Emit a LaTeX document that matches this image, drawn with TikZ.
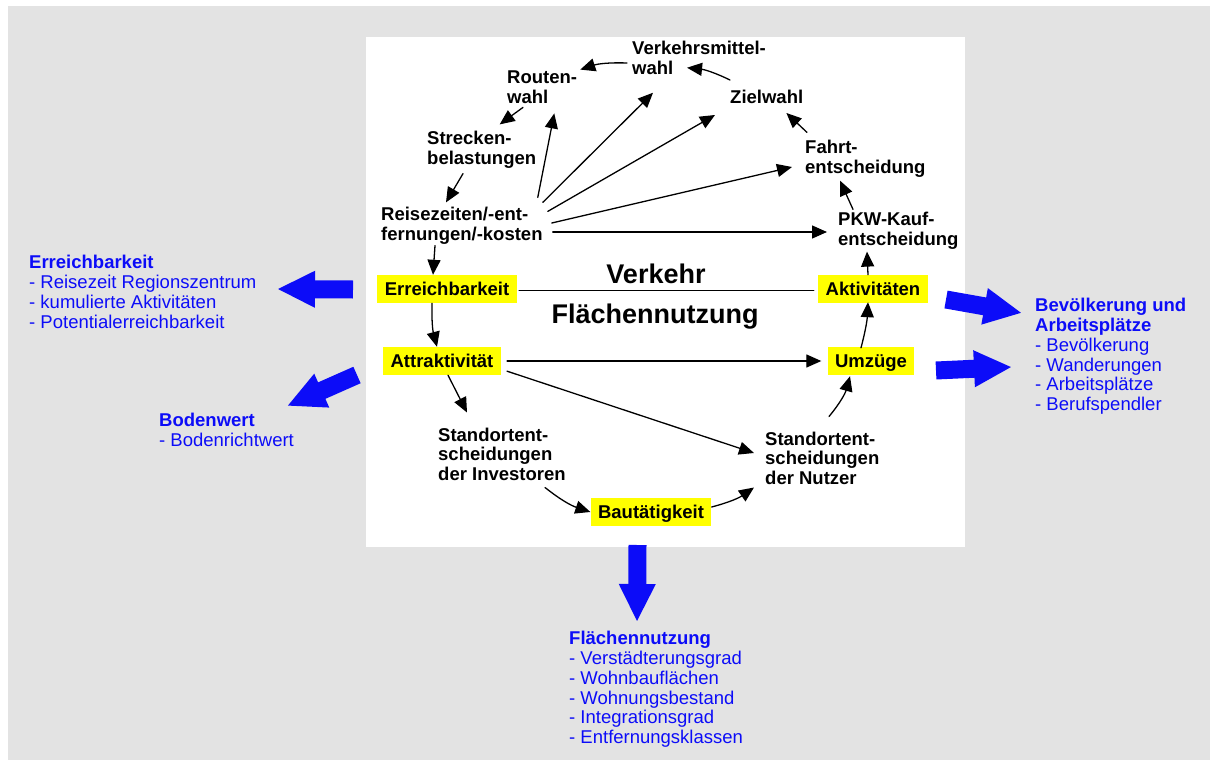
\documentclass[tikz,border=0pt]{standalone}
\usepackage{fontspec}
\setmainfont{Liberation Sans}
\usetikzlibrary{arrows.meta}
\definecolor{bggray}{RGB}{227,227,227}
\definecolor{markyellow}{RGB}{255,255,0}
\definecolor{infoblue}{RGB}{12,12,248}
\newcommand*\labfont{\fontsize{18.5}{19.5}\selectfont\bfseries}
\newcommand*\infofont{\fontsize{18.5}{19.8}\selectfont}
\newcommand*\headfont{\fontsize{27}{30}\selectfont\bfseries}
\tikzset{
  lab/.style={inner sep=0pt,anchor=west,align=left,font=\labfont},
  hlbox/.style={fill=markyellow,font=\labfont,inner xsep=7.5pt,inner ysep=5.5pt,text height=15pt,text depth=2pt},
  flow/.style={line width=1.3pt,-{Triangle[length=15pt,width=13pt]}},
  bigarrow/.style={draw=infoblue,line width=18pt,-{Triangle[length=38pt,width=34pt]}},
  info/.style={inner sep=0pt,anchor=north west,align=left,text=infoblue,font=\infofont},
}

\begin{document}
\begin{tikzpicture}[x=1pt,y=-1pt,line cap=round,line join=round]
\useasboundingbox (0,0) rectangle (1210,760);
\fill[bggray] (8,6) rectangle (1210,760);
\fill[white] (366,37) rectangle (965,547);

% Verkehr
\node[lab] (vmw) at (632,58) {Verkehrsmittel-\\wahl};
\node[lab] (rw) at (507,87) {Routen-\\wahl};
\node[lab] (sb) at (427,150) {Strecken-\\belastungen};
\node[lab] (rz) at (381,226) {Reisezeiten/-ent-\\fernungen/-kosten};
\node[lab] (zw) at (730,97) {Zielwahl};
\node[lab] (fe) at (805,159) {Fahrt-\\entscheidung};
\node[lab] (pkw) at (838,231) {PKW-Kauf-\\entscheidung};

\node[hlbox] (erb) at (447,289) {Erreichbarkeit};
\node[hlbox] (akt) at (873,289) {Aktivitäten};
\node[anchor=base,font=\headfont] (vk) at (656,283) {Verkehr};
\node[anchor=base,font=\headfont] (fn) at (655,323) {Flächennutzung};

% Flaechennutzung
\node[hlbox] (att) at (442,361) {Attraktivität};
\node[hlbox] (umz) at (871,361) {Umzüge};
\node[hlbox] (bau) at (651,512) {Bautätigkeit};
\node[lab] (si) at (438,454) {Standortent-\\scheidungen\\der Investoren};
\node[lab] (sn) at (765,458) {Standortent-\\scheidungen\\der Nutzer};

\draw[flow] ([shift={(-5,5)}]vmw.west) to[bend right=10] ([shift={(3,-1)}]rw.north east);
\draw[flow] ([shift={(0,-10)}]zw.north west) to[bend right=10] ([shift={(-12,-7)}]vmw.south);
\draw[flow] ([shift={(16,4)}]rw.south west) -- ([shift={(18,-7)}]sb.north);
\draw[flow] ([shift={(36,5)}]sb.south west) -- ([shift={(65,-5)}]rz.north west);
\draw[flow] ([shift={(-5,-10)}]rz.north east) -- ([shift={(-23,10)}]rw.south east);
\draw[flow] ([shift={(0,-5)}]rz.north east) -- ([shift={(21,18)}]vmw.south west);
\draw[flow] ([shift={(5,4)}]rz.north east) -- ([shift={(-15,11)}]zw.south west);
\draw[flow] ([shift={(9,-3)}]rz.east) -- ([shift={(-13,8)}]fe.west);
\draw[flow] ([shift={(10,6)}]rz.east) -- ([shift={(-11,1)}]pkw.west);
\draw[flow] ([shift={(2,-8)}]fe.north west) -- ([shift={(-17,9)}]zw.south east);
\draw[flow] ([shift={(15,-3)}]pkw.north west) -- ([shift={(35,3)}]fe.south west);
\draw[flow] ([shift={(-5,0)}]akt.north) -- ([shift={(29,2)}]pkw.south west);
\draw[flow] ([shift={(54,1)}]rz.south west) -- ([shift={(-14,0)}]erb.north);

\draw[flow] ([shift={(-15,0)}]erb.south) to[bend right=8] ([shift={(-5,0)}]att.north);
\draw[flow] ([shift={(6,0)}]att.south) -- ([shift={(29,-15)}]si.north west);
\draw[flow] ([shift={(6,0)}]att.east) -- ([shift={(-6,0)}]umz.west);
\draw[flow] ([shift={(6,-4)}]att.south east) -- ([shift={(-11,-5)}]sn.west);
\draw[flow] ([shift={(107,7)}]si.south west) to[bend right=10] (bau.west);
\draw[flow] ([shift={(0,-5)}]bau.east) to[bend right=10] ([shift={(-11,3)}]sn.south west);
\draw[flow] ([shift={(64,-15)}]sn.north west) to[bend right=12] ([shift={(-21,1)}]umz.south);
\draw[flow] ([shift={(-10,1)}]umz.north) to[bend right=6] ([shift={(-5,-1)}]akt.south);
\draw[line width=0.8pt,dash pattern=on 2pt off 0.6pt] ([shift={(2,1)}]erb.east) -- ([shift={(-4,1)}]akt.west);

% Indikatoren
\node[info] (erq) at (29,255) {\textbf{Erreichbarkeit}\\- Reisezeit Regionszentrum\\- kumulierte Aktivitäten\\- Potentialerreichbarkeit};
\node[info] (bdw) at (159,413) {\textbf{Bodenwert}\\- Bodenrichtwert};
\node[info] (bev) at (1035,298) {\textbf{Bevölkerung und}\\\textbf{Arbeitsplätze}\\- Bevölkerung\\- Wanderungen\\- Arbeitsplätze\\- Berufspendler};
\node[info] (fln) at (569,631) {\textbf{Flächennutzung}\\- Verstädterungsgrad\\- Wohnbauflächen\\- Wohnungsbestand\\- Integrationsgrad\\- Entfernungsklassen};

\coordinate (erqT) at (353,289.5);
\coordinate (erqH) at (277,289);
\coordinate (bdwT) at (357,375);
\coordinate (bdwH) at (287,406);
\coordinate (bevT1) at (946,299.5);
\coordinate (bevH1) at (1022,313);
\coordinate (bevT2) at (936,370.5);
\coordinate (bevH2) at (1012,367);
\coordinate (flnT) at (637.5,545);
\coordinate (flnH) at (637,622);
\draw[bigarrow,line cap=butt] (erqT) -- (erqH);
\draw[bigarrow,line cap=butt] (bdwT) -- (bdwH);
\draw[bigarrow,line cap=butt] (bevT1) -- (bevH1);
\draw[bigarrow,line cap=butt] (bevT2) -- (bevH2);
\draw[bigarrow,line cap=butt] (flnT) -- (flnH);
\end{tikzpicture}
\end{document}
